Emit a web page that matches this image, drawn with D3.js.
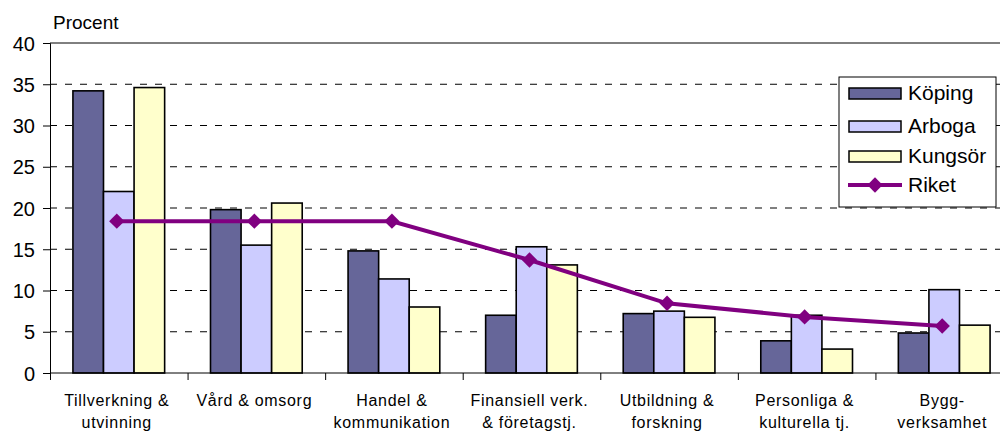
<!DOCTYPE html>
<html>
<head>
<meta charset="utf-8">
<script src="https://cdn.jsdelivr.net/npm/d3@7"></script>
<style>
  body { margin: 0; background: #fff; }
  svg { display: block; }
  svg text { font-family: "Liberation Sans", Arial, sans-serif; fill: #000; }
</style>
</head>
<body>
<svg id="chart" width="1000" height="432"></svg>
<script>
// data
const categories = [
  ["Tillverkning &", "utvinning"],
  ["Vård & omsorg"],
  ["Handel &", "kommunikation"],
  ["Finansiell verk.", "& företagstj."],
  ["Utbildning &", "forskning"],
  ["Personliga &", "kulturella tj."],
  ["Bygg-", "verksamhet"]
];
const koping  = [34.2, 19.8, 14.8, 7.0, 7.2, 3.9, 4.85];
const arboga  = [22.0, 15.5, 11.4, 15.3, 7.5, 7.0, 10.1];
const kungsor = [34.6, 20.6, 8.0, 13.1, 6.75, 2.9, 5.8];
const riket   = [18.4, 18.4, 18.4, 13.7, 8.45, 6.8, 5.7];
const yTicks  = [0, 5, 10, 15, 20, 25, 30, 35, 40];

const series = [
  {name: "Köping", values: koping, color: "#666699"},
  {name: "Arboga", values: arboga, color: "#ccccff"},
  {name: "Kungsör", values: kungsor, color: "#ffffcc"}
];

const plot = {left: 50, top: 43, right: 1013, bottom: 373};
const svg = d3.select("#chart");

const x = d3.scaleBand()
    .domain(d3.range(categories.length))
    .range([plot.left, plot.right]);
const xInner = d3.scaleBand()
    .domain(d3.range(series.length))
    .range([0, x.bandwidth()])
    .paddingOuter(0.75);   // gap width 150%
const y = d3.scaleLinear().domain([0, 40]).range([plot.bottom, plot.top]);

//gridlines
svg.append("g")
  .selectAll("line")
  .data(yTicks.filter(d => d > 0 && d < 40))
  .join("line")
    .attr("x1", plot.left).attr("x2", plot.right)
    .attr("y1", d => y(d)).attr("y2", d => y(d))
    .attr("stroke", "#000")
    .attr("stroke-dasharray", "7,8");
svg.append("line")
    .attr("x1", plot.left).attr("x2", plot.right)
    .attr("y1", y(40)).attr("y2", y(40))
    .attr("stroke", "#000");

//bars
series.forEach((s, si) => {
  svg.append("g")
    .selectAll("rect")
    .data(s.values)
    .join("rect")
      .attr("x", (d, i) => x(i) + xInner(si))
      .attr("y", d => y(d))
      .attr("width", xInner.bandwidth())
      .attr("height", d => y(0) - y(d))
      .attr("fill", s.color)
      .attr("stroke", "#000")
      .attr("stroke-width", 1.6);
});

//axes
const yAxis = svg.append("g")
    .attr("transform", `translate(${plot.left},0)`)
    .call(d3.axisLeft(y).tickValues(yTicks).tickSize(7).tickPadding(8));
yAxis.attr("font-family", null);
yAxis.selectAll("text").attr("font-size", 20).attr("dy", "0.36em");
yAxis.selectAll("line, path").attr("stroke", "#000");

const xAxis = svg.append("g")
    .attr("transform", `translate(0,${plot.bottom})`)
    .call(d3.axisBottom(d3.scaleLinear().domain([0, categories.length]).range([plot.left, plot.right]))
      .ticks(categories.length).tickSize(7).tickFormat(""));
xAxis.selectAll("line, path").attr("stroke", "#000");
xAxis.select(".domain").attr("d", `M${plot.left},0H${plot.right}`);

//category labels
const labels = svg.append("g")
  .selectAll("text")
  .data(categories)
  .join("text")
    .attr("x", (d, i) => x(i) + x.bandwidth() / 2 - 2)
    .attr("y", 406)
    .attr("text-anchor", "middle")
    .attr("font-size", 16)
    .attr("letter-spacing", 0.7);
labels.selectAll("tspan")
  .data(d => d)
  .join("tspan")
    .attr("x", function() { return this.parentNode.getAttribute("x"); })
    .attr("dy", (d, i) => i === 0 ? 0 : 22)
    .text(d => d);

//riket line
const cx = i => x(i) + x.bandwidth() / 2 - 2;
svg.append("path")
    .datum(riket)
    .attr("d", d3.line().x((d, i) => cx(i)).y(d => y(d)))
    .attr("fill", "none")
    .attr("stroke", "#800080")
    .attr("stroke-width", 4);
svg.append("g")
  .selectAll("path")
  .data(riket)
  .join("path")
    .attr("transform", (d, i) => `translate(${cx(i)},${y(d)})`)
    .attr("d", d3.symbol(d3.symbolDiamond2, 150))
    .attr("fill", "#800080");

//axis title
svg.append("text")
    .attr("x", 53).attr("y", 29)
    .attr("font-size", 19)
    .text("Procent");

//legend
const legend = svg.append("g").attr("transform", "translate(839,77)");
legend.append("rect")
    .attr("width", 157).attr("height", 130)
    .attr("fill", "#fff").attr("stroke", "#000");
const rowY = [16, 49, 79, 108];
series.forEach((s, i) => {
  legend.append("rect")
      .attr("x", 10).attr("y", rowY[i] - 5)
      .attr("width", 52).attr("height", 11)
      .attr("fill", s.color).attr("stroke", "#000").attr("stroke-width", 1.5);
  legend.append("text")
      .attr("x", 69).attr("y", rowY[i] + 7)
      .attr("font-size", 21)
      .text(s.name);
});
legend.append("line")
    .attr("x1", 9).attr("x2", 63)
    .attr("y1", rowY[3]).attr("y2", rowY[3])
    .attr("stroke", "#800080").attr("stroke-width", 4);
legend.append("path")
    .attr("transform", `translate(36,${rowY[3]})`)
    .attr("d", d3.symbol(d3.symbolDiamond2, 150))
    .attr("fill", "#800080");
legend.append("text")
    .attr("x", 69).attr("y", rowY[3] + 7)
    .attr("font-size", 21)
    .text("Riket");
</script>
</body>
</html>
